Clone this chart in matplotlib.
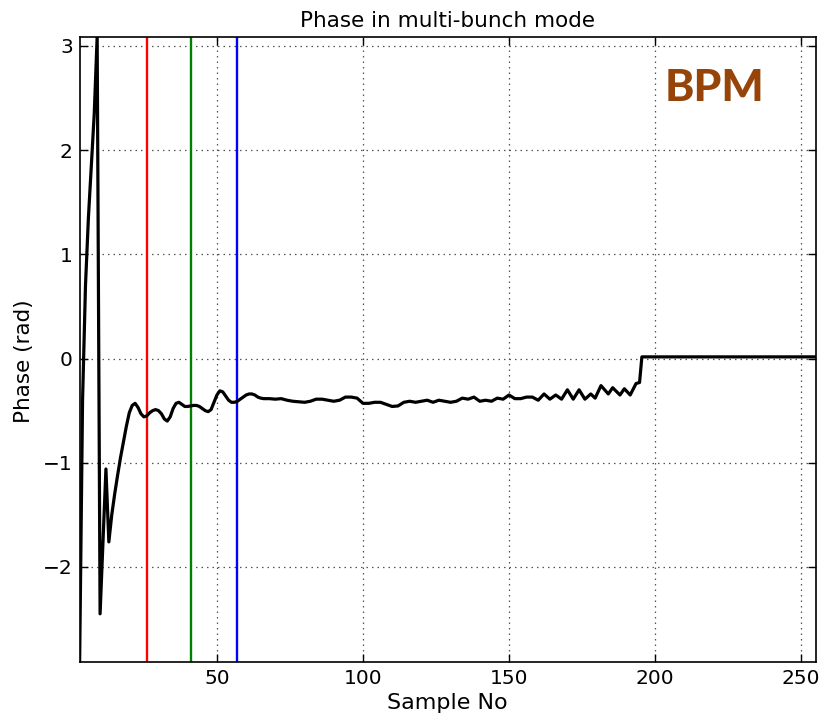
import matplotlib
matplotlib.use('Agg')
import matplotlib.pyplot as plt

# sample positions and phase
sample_no = [3, 4, 5, 6, 7, 8, 9, 10, 11, 12, 13, 14, 15, 16, 17, 18, 19, 20,
             21, 22, 23, 24, 25, 26, 27, 28, 29, 30, 31, 32, 33, 34, 35, 36,
             37, 38, 39, 40, 41, 42, 43, 44, 45, 46, 47, 48, 49, 50, 51, 52,
             53, 54, 55, 56, 57, 58, 59, 60, 61, 62, 63, 64, 65, 66, 68, 70,
             72, 74, 76, 78, 80, 82, 84, 86, 88, 90, 92, 94, 96, 98, 100, 102,
             104, 106, 108, 110, 112, 114, 116, 118, 120, 122, 124, 126, 128,
             130, 132, 134, 136, 138, 140, 142, 144, 146, 148, 150, 152, 154,
             156, 158, 160, 162, 164, 166, 168, 170, 172, 174, 176, 178, 179.5,
             181.5, 184, 185.5, 188, 189.5, 191.5, 193.5, 194.7, 195.5, 255]
phase = [-2.91, -0.4, 0.7, 1.35, 1.85, 2.35, 3.09, -2.45, -1.75, -1.06, -1.76,
         -1.5, -1.3, -1.12, -0.95, -0.8, -0.65, -0.52, -0.45, -0.43, -0.47,
         -0.53, -0.56, -0.55, -0.52, -0.50, -0.49, -0.50, -0.53, -0.58, -0.60,
         -0.56, -0.48, -0.43, -0.42, -0.44, -0.46, -0.46, -0.455, -0.45, -0.45,
         -0.46, -0.48, -0.50, -0.51, -0.49, -0.42, -0.35, -0.31, -0.32, -0.36,
         -0.40, -0.42, -0.42, -0.41, -0.39, -0.37, -0.35, -0.34, -0.34, -0.35,
         -0.37, -0.38, -0.385, -0.385, -0.39, -0.385, -0.40, -0.41, -0.415,
         -0.42, -0.41, -0.39, -0.39, -0.40, -0.41, -0.40, -0.37, -0.37, -0.38,
         -0.43, -0.43, -0.42, -0.42, -0.44, -0.46, -0.455, -0.42, -0.41, -0.42,
         -0.41, -0.40, -0.42, -0.40, -0.41, -0.42, -0.41, -0.38, -0.39, -0.37,
         -0.41, -0.40, -0.41, -0.38, -0.39, -0.35, -0.385, -0.385, -0.37,
         -0.37, -0.40, -0.34, -0.39, -0.35, -0.39, -0.30, -0.39, -0.30, -0.39,
         -0.34, -0.38, -0.26, -0.34, -0.28, -0.35, -0.29, -0.35, -0.24, -0.23,
         0.016, 0.016]

marker_pos = [26, 41, 57]
marker_col = ['red', 'green', 'blue']

fig = plt.figure(figsize=(8.21, 7.18), dpi=100)
ax = fig.add_axes([0.097, 0.0784, 0.8965, 0.8706])

for xp, c in zip(marker_pos, marker_col):
    ax.axvline(xp, color=c, lw=1.7, zorder=2)
ax.plot(sample_no, phase, color='black', lw=2.3, zorder=3)

ax.set_xlim(3, 255)
ax.set_ylim(-2.91, 3.09)
ax.set_xticks([50, 100, 150, 200, 250])
ax.set_yticks([-2, -1, 0, 1, 2, 3])
ax.grid(True, color='#555555', linestyle=(0, (1.2, 3.2)), lw=0.9)
ax.tick_params(direction='in', length=6, width=1, labelsize=14.5, top=True, right=True, pad=5)
for sp in ax.spines.values():
    sp.set_linewidth(1.2)

ax.set_title('Phase in multi-bunch mode', fontsize=15.5, pad=7)
ax.set_xlabel('Sample No', fontsize=16, labelpad=4)
ax.set_ylabel('Phase (rad)', fontsize=15.5)
ax.yaxis.set_label_coords(-0.062, 0.48)

ax.text(0.862, 0.918, 'BPM', transform=ax.transAxes, ha='center', va='center',
        fontsize=32, fontweight='black', family='Lato', color='#974409')

fig.savefig('out.png', dpi=100)
